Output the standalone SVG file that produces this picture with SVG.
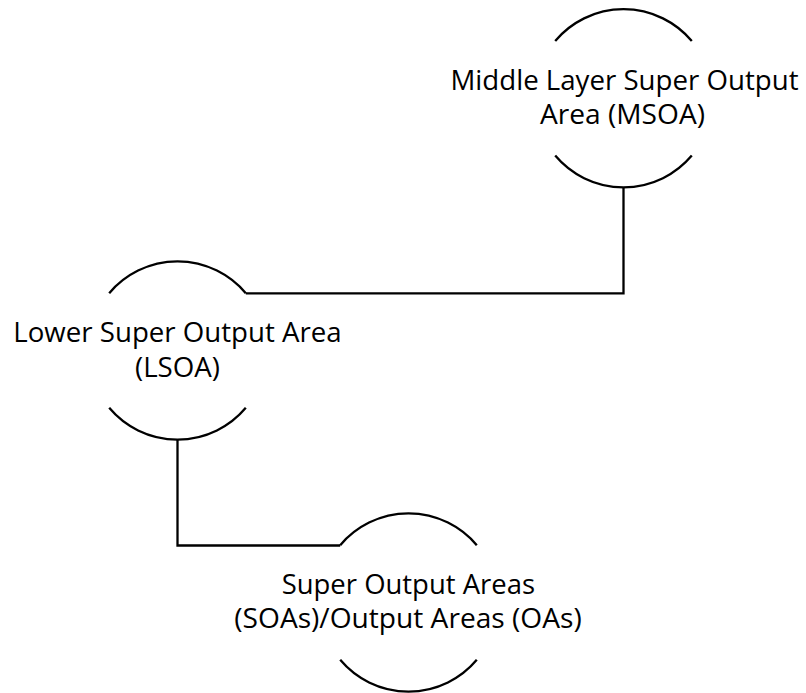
<svg xmlns="http://www.w3.org/2000/svg" width="806" height="693" viewBox="0 0 806 693">
  <style>
    .arc { fill: none; stroke: #000; stroke-width: 2.3; }
    .link { fill: none; stroke: #000; stroke-width: 2.3; }
    .label { font-family: "Open Sans", "Liberation Sans", sans-serif; font-size: 26.5px; fill: #000; }
  </style>
  <rect width="806" height="693" fill="#fff"/>

  <!-- connectors: elbow lines from the bottom of one circle to the top of the next -->
  <g id="connectors">
    <polyline class="link" points="623.5,187.5 623.5,293.3 245.8,293.3"/>
    <polyline class="link" points="177.5,439.7 177.5,545.5 340.2,545.5"/>
  </g>

  <!-- MSOA: circle broken behind its label -->
  <g id="msoa">
    <path class="arc" d="M555.2,41 A89.2,89.2 0 0 1 691.8,41"/>
    <path class="arc" d="M555.2,155.6 A89.2,89.2 0 0 0 691.8,155.6"/>
    <text class="label" x="450.5" y="89.5" textLength="348" lengthAdjust="spacingAndGlyphs">Middle Layer Super Output</text>
    <text class="label" x="540" y="123.5" textLength="165" lengthAdjust="spacingAndGlyphs">Area (MSOA)</text>
  </g>

  <!-- LSOA -->
  <g id="lsoa">
    <path class="arc" d="M109.2,293.2 A89.2,89.2 0 0 1 245.8,293.2"/>
    <path class="arc" d="M109.2,407.8 A89.2,89.2 0 0 0 245.8,407.8"/>
    <text class="label" x="13.3" y="342.3" textLength="328.4" lengthAdjust="spacingAndGlyphs">Lower Super Output Area</text>
    <text class="label" x="135" y="376.5" textLength="85" lengthAdjust="spacingAndGlyphs">(LSOA)</text>
  </g>

  <!-- SOA / OA -->
  <g id="soa">
    <path class="arc" d="M340.2,545.2 A89.2,89.2 0 0 1 476.8,545.2"/>
    <path class="arc" d="M340.2,659.8 A89.2,89.2 0 0 0 476.8,659.8"/>
    <text class="label" x="281.7" y="594.3" textLength="253.3" lengthAdjust="spacingAndGlyphs">Super Output Areas</text>
    <text class="label" x="234.3" y="628.3" textLength="347.4" lengthAdjust="spacingAndGlyphs">(SOAs)/Output Areas (OAs)</text>
  </g>
</svg>
